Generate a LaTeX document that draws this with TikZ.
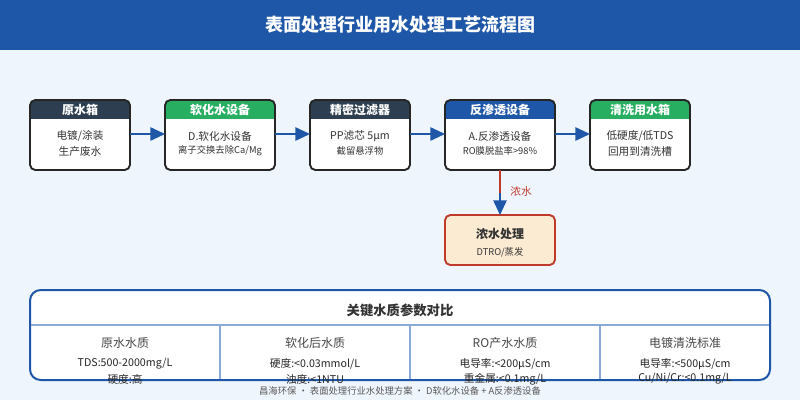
\documentclass[tikz,border=0pt]{standalone}
\usepackage{fontspec}
\setmainfont{Noto Sans CJK SC}
\usetikzlibrary{arrows.meta}
\definecolor{bg}{HTML}{EEF5FD}
\definecolor{hblue}{HTML}{1F57A8}
\definecolor{dark}{HTML}{2C3E50}
\definecolor{grn}{HTML}{27AE60}
\definecolor{red1}{HTML}{C0392B}
\definecolor{peach}{HTML}{FCEBD3}
\definecolor{lb}{HTML}{8AAAD8}
\definecolor{txt}{HTML}{333333}
\begin{document}
\begin{tikzpicture}[x=0.75pt,y=-0.75pt,
 box/.style={draw=black!85,line width=1.4pt,rounded corners=4pt,fill=white},
 arr/.style={-{Triangle[length=11pt,width=10pt]},hblue,line width=1.3pt},
 ht/.style={text=white,font=\bfseries\fontsize{9}{10}\selectfont},
 b1/.style={text=txt,font=\fontsize{8}{9}\selectfont},
 b2/.style={text=txt,font=\fontsize{7}{8}\selectfont}]
\useasboundingbox (0,0) rectangle (800,400);
\fill[bg] (0,0) rectangle (800,400);
\fill[hblue] (0,0) rectangle (800,50);
\node[text=white,font=\bfseries\fontsize{13.5}{15}\selectfont] (title) at (400,25) {表面处理行业用水处理工艺流程图};
% boxes
\foreach \n/\xa/\xb/\c/\h/\la/\lb/\fa in {
 a/30/130/dark/原水箱/{电镀/涂装}/生产废水/b1,
 b/165/275/grn/软化水设备/D.软化水设备/{离子交换去除Ca/Mg}/b2,
 c/310/410/dark/精密过滤器/PP滤芯 5μm/截留悬浮物/b2,
 d/445/555/hblue/反渗透设备/A.反渗透设备/RO膜脱盐率>98\%/b2,
 e/590/690/grn/清洗用水箱/{低硬度/低TDS}/回用到清洗槽/b1}{
 \begin{scope}
 \clip[rounded corners=4pt] (\xa,100) rectangle (\xb,170);
 \fill[white] (\xa,100) rectangle (\xb,170);
 \fill[\c] (\xa,100) rectangle (\xb,119);
 \end{scope}
 \node[box,fill=none,inner sep=0pt,outer sep=0pt,minimum width={(\xb-\xa)*0.75pt},minimum height=52.5pt,anchor=north west] (\n) at (\xa,100) {};
 \node[ht] (\n h) at ({(\xa+\xb)/2},110) {\h};
 \node[b1] (\n 1) at ({(\xa+\xb)/2},136) {\la};
 \node[\fa] (\n 2) at ({(\xa+\xb)/2},151) {\lb};
}
\draw[arr] (a.east|-0,134) -- (b.west|-0,134);
\draw[arr] (b.east|-0,134) -- (c.west|-0,134);
\draw[arr] (c.east|-0,134) -- (d.west|-0,134);
\draw[arr] (d.east|-0,134) -- (e.west|-0,134);
\node[box,draw=red1,fill=peach,inner sep=0pt,outer sep=0pt,minimum width=82.5pt,minimum height=37.5pt,anchor=north west] (f) at (445,215) {};
\node[text=txt,font=\bfseries\fontsize{9}{10}\selectfont] (fh) at (500,234) {浓水处理};
\node[b2] (f1) at (500,252) {DTRO/蒸发};
\draw[red1,line width=1.3pt] (d.south) -- (d.south|-0,197);
\draw[arr] (d.south|-0,193) -- (f.north);
\node[text=red1,font=\fontsize{8}{9}\selectfont] (nl) at (521,191) {浓水};
% table
\draw[hblue,line width=1.5pt,rounded corners=8pt,fill=white] (30,290) rectangle (770,380);
\node[text=txt,font=\bfseries\fontsize{10}{12}\selectfont] (tt) at (400,310) {关键水质参数对比};
\draw[lb,line width=1pt] (31,325) -- (769,325);
\foreach \x in {220,410,600} \draw[lb,line width=1pt] (\x,325) -- (\x,379);
\foreach \n/\x/\h/\la/\lb in {
 p/125/原水水质/{TDS:500-2000mg/L}/硬度:高,
 q/315/软化后水质/{硬度:<0.03mmol/L}/浊度:<1NTU,
 r/505/RO产水水质/{电导率:<200μS/cm}/{重金属:<0.1mg/L},
 s/685/电镀清洗标准/{电导率:<500μS/cm}/{Cu/Ni/Cr:<0.1mg/L}}{
 \node[text=txt!90,font=\fontsize{9}{10}\selectfont] (\n h) at (\x,343) {\h};
 \node[text=black!85,font=\fontsize{8}{9}\selectfont] (\n 1) at (\x,364) {\la};
 \node[text=black!85,font=\fontsize{8}{9}\selectfont] (\n 2) at (\x,379) {\lb};
}
\node[text=black!65,font=\fontsize{7}{8}\selectfont] (foot) at (400,391) {昌海环保 · 表面处理行业水处理方案 · D软化水设备 + A反渗透设备};
\end{tikzpicture}
\end{document}
